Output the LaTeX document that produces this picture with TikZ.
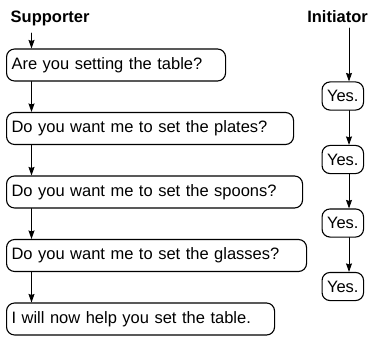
\documentclass[tikz,border=0pt]{standalone}
\usepackage{fontspec}
\setmainfont{Liberation Sans}
\usetikzlibrary{arrows.meta}
\begin{document}
\begin{tikzpicture}[x=1pt, y=-1pt, line join=round, line cap=round,
		saybox/.style={draw, rounded corners=8pt, line width=1.1pt, inner xsep=5pt, inner ysep=8.3pt,
			font=\fontsize{16.5}{19}\selectfont, anchor=west},
		said/.style={saybox, text width=#1, align=left},
		role/.style={inner sep=0pt, font=\fontsize{16.5}{19}\selectfont\bfseries},
		turn/.style={-{Stealth[length=8.5pt, width=6pt, inset=1pt]}, line width=0.8pt}]
	\useasboundingbox (0,0) rectangle (369,338);
	\pgfmathsetmacro\gap{63.5}
	% roles
	\node[role, anchor=base west] (sup) at (10.5,22.5) {Supporter};
	\node[role, anchor=base east] (ini) at (368,22.5) {Initiator};
	\coordinate (suptop) at (31.5,33);
	\coordinate (initop) at (349,28);
	% supporter turns
	\node[said=209pt] (s1) at (6,65) {Are you setting the table?};
	\node[said=277pt] (s2) at (6,65+\gap) {Do you want me to set the plates?};
	\node[said=286pt] (s3) at (6,65+2*\gap) {Do you want me to set the spoons?};
	\node[said=290pt] (s4) at (6,65+3*\gap) {Do you want me to set the glasses?};
	\node[said=258pt] (s5) at (6,65+4*\gap) {I will now help you set the table.};
	% initiator turns
	\foreach \k in {1,...,4}
		\node[saybox] (i\k) at (321.5,{96+(\k-1)*\gap}) {Yes.};
	% arrows
	\draw[turn] (suptop) -- (s1.north -| suptop);
	\foreach \a/\b in {1/2,2/3,3/4,4/5}
		\draw[turn] (s\a.south -| suptop) -- (s\b.north -| suptop);
	\draw[turn] (initop) -- (i1.north -| initop);
	\foreach \a/\b in {1/2,2/3,3/4}
		\draw[turn] (i\a.south -| initop) -- (i\b.north -| initop);
\end{tikzpicture}
\end{document}
